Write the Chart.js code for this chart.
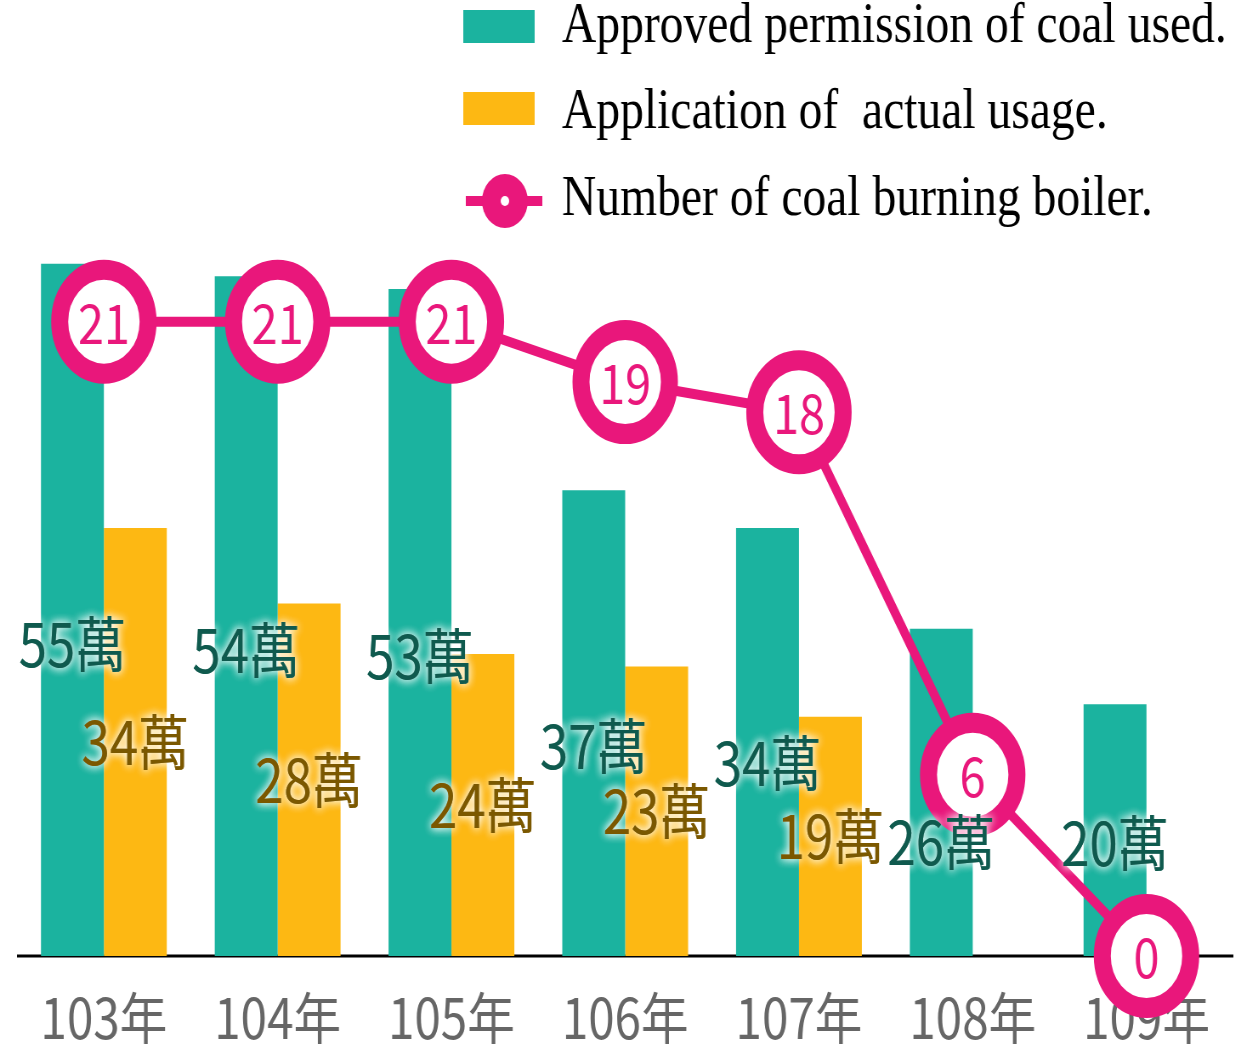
<!DOCTYPE html>
<html>
<head>
<meta charset="utf-8">
<script src="https://cdn.jsdelivr.net/npm/chart.js@4"></script>
<style>
  html, body { margin: 0; padding: 0; background: #fff; overflow: hidden; }
  #wrap { width: 1466px; height: 1044px; transform: scaleX(0.85); transform-origin: 0 0; }
</style>
</head>
<body>
<div id="wrap"><canvas id="coalChart"></canvas></div>
<script>
// data
var years = ['103年', '104年', '105年', '106年', '107年', '108年', '109年'];
var approved = [55, 54, 53, 37, 34, 26, 20];
var actual = [34, 28, 24, 23, 19, null, null];
var boilers = [21, 21, 21, 19, 18, 6, 0];
var legendNames = ['Approved permission of coal used.', 'Application of  actual usage.', 'Number of coal burning boiler.'];

var TEAL = '#1bb39f';
var YELLOW = '#fdb813';
var PINK = '#e9177b';
var CJK = '"Noto Sans CJK TC", "Noto Sans", sans-serif';

// baseline under the bars
var baseLine = {
    id: 'baseLine',
    beforeDatasetsDraw: function (chart) {
        var a = chart.chartArea, c = chart.ctx;
        c.save();
        c.strokeStyle = '#000';
        c.lineWidth = 3;
        c.beginPath();
        c.moveTo(a.left, a.bottom);
        c.lineTo(a.right, a.bottom);
        c.stroke();
        c.restore();
    }
};

// value labels on bars, numbers in the rings, legend
var valueLabels = {
    id: 'valueLabels',
    afterDatasetsDraw: function (chart) {
        var c = chart.ctx;
        var rings = chart.getDatasetMeta(0).data;
        c.save();
        c.textAlign = 'center';
        c.textBaseline = 'middle';
        c.font = '60px ' + CJK;
        var colors = { 1: '#0f5a4e', 2: '#7b5800' };
        [1, 2].forEach(function (di) {
            var meta = chart.getDatasetMeta(di);
            var data = chart.data.datasets[di].data;
            meta.data.forEach(function (bar, i) {
                if (data[i] == null) return;
                var y;
                if (di === 1) {
                    // teal labels a bit below the middle, kept clear of the ring
                    y = bar.base - (bar.base - bar.y) * 0.45;
                    if (Math.abs(y - rings[i].y) < 80) y = rings[i].y + 67;
                } else {
                    y = (bar.y + bar.base) / 2;
                }
                c.shadowColor = 'rgba(255,255,255,0.95)';
                c.shadowBlur = 10;
                c.fillStyle = colors[di];
                c.fillText(data[i] + '萬', bar.x, y);
                c.fillText(data[i] + '萬', bar.x, y);
            });
        });
        c.shadowBlur = 0;
        c.shadowColor = 'transparent';
        c.font = '55px ' + CJK;
        c.fillStyle = PINK;
        rings.forEach(function (pt, i) {
            c.fillText(String(boilers[i]), pt.x, pt.y + 1);
        });
        c.restore();
    },
    afterDraw: function (chart) {
        var c = chart.ctx;
        c.save();
        c.fillStyle = TEAL;
        c.fillRect(545, 10, 84, 33);
        c.fillStyle = YELLOW;
        c.fillRect(545, 92, 84, 33);
        c.strokeStyle = PINK;
        c.lineWidth = 10;
        c.beginPath();
        c.moveTo(548, 201);
        c.lineTo(638, 201);
        c.stroke();
        c.fillStyle = PINK;
        c.beginPath();
        c.arc(594, 201, 27, 0, Math.PI * 2);
        c.fill();
        c.fillStyle = '#fff';
        c.beginPath();
        c.arc(594, 201, 5, 0, Math.PI * 2);
        c.fill();
        c.fillStyle = '#000';
        c.font = '56px "Liberation Serif", "Times New Roman", serif';
        c.textAlign = 'left';
        c.textBaseline = 'alphabetic';
        c.fillText(legendNames[0], 661, 42);
        c.fillText(legendNames[1], 661, 128);
        c.fillText(legendNames[2], 661, 215);
        c.restore();
    }
};

var ctx = document.getElementById('coalChart').getContext('2d');
var coalChart = new Chart(ctx, {
    type: 'bar',
    data: {
        labels: years,
        datasets: [{
            type: 'line',
            label: legendNames[2],
            data: boilers,
            yAxisID: 'y1',
            order: 0,
            borderColor: PINK,
            borderWidth: 10,
            tension: 0,
            clip: false,
            pointRadius: 52,
            pointBorderWidth: 20,
            pointBorderColor: PINK,
            pointBackgroundColor: '#fff'
        }, {
            label: legendNames[0],
            data: approved,
            yAxisID: 'y',
            order: 1,
            backgroundColor: TEAL,
            categoryPercentage: 0.724,
            barPercentage: 1
        }, {
            label: legendNames[1],
            data: actual,
            yAxisID: 'y',
            order: 1,
            backgroundColor: YELLOW,
            categoryPercentage: 0.724,
            barPercentage: 1
        }]
    },
    options: {
        responsive: true,
        maintainAspectRatio: false,
        animation: false,
        layout: { autoPadding: false, padding: { top: 231, left: 20, right: 15, bottom: 0 } },
        plugins: {
            legend: { display: false },
            tooltip: { enabled: false }
        },
        scales: {
            x: {
                z: 1,
                grid: { display: false, drawTicks: false },
                border: { display: false },
                ticks: {
                    color: '#666',
                    padding: 35,
                    font: { family: CJK, size: 56, lineHeight: 0.95 }
                },
                afterFit: function (scale) {
                    scale.height = 88;
                    scale.paddingLeft = 0;
                    scale.paddingRight = 0;
                }
            },
            y: { display: false, min: 0, max: 57.6 },
            y1: { display: false, min: 0, max: 24 }
        }
    },
    plugins: [baseLine, valueLabels]
});
</script>
</body>
</html>
